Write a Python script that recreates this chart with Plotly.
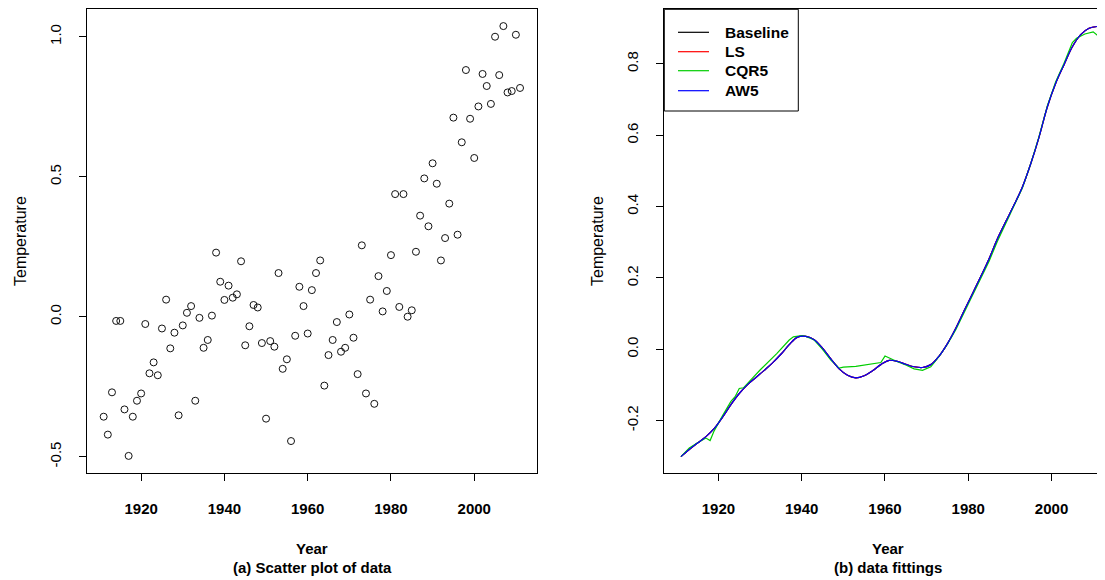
import plotly.graph_objects as go

# ---------------- data ----------------
years = list(range(1911, 2012))
temperature = [
    -0.357, -0.421, -0.270, -0.015, -0.015, -0.331, -0.497, -0.357, -0.300, -0.274,  # 1911-1920
    -0.026, -0.202, -0.163, -0.209, -0.042, 0.061, -0.113, -0.057, -0.352, -0.031,   # 1921-1930
    0.014, 0.038, -0.300, -0.004, -0.111, -0.083, 0.004, 0.229, 0.125, 0.060,        # 1931-1940
    0.111, 0.068, 0.080, 0.198, -0.102, -0.034, 0.042, 0.033, -0.094, -0.364,        # 1941-1950
    -0.087, -0.107, 0.156, -0.186, -0.152, -0.444, -0.068, 0.107, 0.038, -0.060,     # 1951-1960
    0.095, 0.156, 0.201, -0.246, -0.137, -0.083, -0.019, -0.125, -0.111, 0.008,      # 1961-1970
    -0.075, -0.205, 0.255, -0.274, 0.061, -0.311, 0.145, 0.019, 0.092, 0.220,        # 1971-1980
    0.438, 0.035, 0.438, 0.000, 0.023, 0.232, 0.361, 0.494, 0.323, 0.548,            # 1981-1990
    0.475, 0.201, 0.281, 0.404, 0.711, 0.293, 0.623, 0.881, 0.707, 0.567,            # 1991-2000
    0.751, 0.867, 0.824, 0.760, 1.000, 0.863, 1.038, 0.801, 0.806, 1.007,            # 2001-2010
    0.817,                                                                            # 2011
]

fit_years = [1911, 1913, 1915, 1917, 1919, 1921, 1923, 1925, 1927, 1929, 1931, 1933,
             1935, 1937, 1939, 1941, 1943, 1945, 1947, 1949, 1951, 1953, 1955, 1957,
             1959, 1961, 1963, 1965, 1967, 1969, 1971, 1973, 1975, 1977, 1979, 1981,
             1983, 1985, 1987, 1989, 1991, 1993, 1995, 1997, 1999, 2001, 2003, 2005,
             2007, 2009, 2011]
baseline = [-0.301, -0.281, -0.263, -0.245, -0.222, -0.190, -0.155, -0.124, -0.099, -0.079,
            -0.059, -0.038, -0.014, 0.013, 0.034, 0.036, 0.027, 0.003, -0.027, -0.055,
            -0.073, -0.080, -0.074, -0.060, -0.043, -0.031, -0.034, -0.042, -0.049, -0.051,
            -0.043, -0.019, 0.016, 0.059, 0.108, 0.156, 0.204, 0.254, 0.310, 0.358,
            0.405, 0.455, 0.520, 0.595, 0.680, 0.746, 0.798, 0.848, 0.882, 0.900, 0.905]
ls_fit = [-0.301, -0.281, -0.263, -0.245, -0.222, -0.190, -0.155, -0.124, -0.099, -0.079,
          -0.059, -0.038, -0.014, 0.013, 0.034, 0.036, 0.027, 0.003, -0.027, -0.055,
          -0.073, -0.080, -0.074, -0.060, -0.043, -0.031, -0.034, -0.042, -0.049, -0.051,
          -0.043, -0.019, 0.016, 0.059, 0.108, 0.156, 0.204, 0.254, 0.310, 0.358,
          0.405, 0.455, 0.520, 0.595, 0.680, 0.746, 0.798, 0.848, 0.882, 0.900, 0.905]
aw5_fit = [-0.301, -0.281, -0.263, -0.245, -0.222, -0.190, -0.155, -0.124, -0.099, -0.079,
           -0.059, -0.038, -0.014, 0.013, 0.034, 0.036, 0.027, 0.003, -0.027, -0.055,
           -0.073, -0.080, -0.074, -0.060, -0.043, -0.031, -0.034, -0.042, -0.049, -0.051,
           -0.043, -0.019, 0.016, 0.059, 0.108, 0.156, 0.204, 0.254, 0.310, 0.358,
           0.405, 0.455, 0.520, 0.595, 0.680, 0.746, 0.798, 0.848, 0.882, 0.900, 0.905]

cqr_years = [1911, 1913, 1915, 1917, 1918, 1919, 1921, 1923, 1924, 1925, 1926, 1927, 1930,
             1934, 1937, 1938, 1940, 1941, 1943, 1945, 1947, 1949, 1950, 1953, 1957, 1959,
             1960, 1961, 1963, 1965, 1967, 1969, 1971, 1973, 1975, 1977, 1979, 1981, 1983,
             1985, 1987, 1989, 1991, 1993, 1995, 1997, 1999, 2001, 2003, 2005, 2006, 2008,
             2010, 2011]
cqr5_fit = [-0.301, -0.277, -0.262, -0.249, -0.256, -0.228, -0.186, -0.146, -0.133, -0.110,
            -0.108, -0.095, -0.058, -0.012, 0.026, 0.035, 0.038, 0.036, 0.026, 0.000,
            -0.030, -0.053, -0.050, -0.048, -0.042, -0.037, -0.019, -0.025, -0.035, -0.044,
            -0.055, -0.059, -0.049, -0.020, 0.014, 0.055, 0.104, 0.153, 0.200, 0.247,
            0.303, 0.352, 0.402, 0.452, 0.520, 0.597, 0.683, 0.750, 0.802, 0.860,
            0.872, 0.884, 0.890, 0.880]

legend_names = ["Baseline", "LS", "CQR5", "AW5"]
legend_colors = ["#000000", "#FF0000", "#00CD00", "#0000FF"]

x_ticks = [1920, 1940, 1960, 1980, 2000]
left_y_ticks = [-0.5, 0.0, 0.5, 1.0]
left_y_text = ["-0.5", "0.0", "0.5", "1.0"]
right_y_ticks = [-0.2, 0.0, 0.2, 0.4, 0.6, 0.8]
right_y_text = ["-0.2", "0.0", "0.2", "0.4", "0.6", "0.8"]

# ---------------- figure ----------------
# page has an 8px body margin: figure pixel = page pixel - OFF
OFF = 8
W, H = 1105 - OFF, 580 - OFF
FONT = "Liberation Sans, Arial, Helvetica, sans-serif"


def fx(p):
    return (p - OFF) / W


def fy(p):
    return 1 - (p - OFF) / H


fig = go.Figure()

fig.add_trace(go.Scatter(
    x=years, y=temperature, mode="markers", xaxis="x", yaxis="y",
    marker=dict(symbol="circle-open", size=7, color="#111111", line=dict(width=1)),
    showlegend=False, name="data"))

fig.add_trace(go.Scatter(x=fit_years, y=baseline, mode="lines", name=legend_names[0],
                         xaxis="x2", yaxis="y2", showlegend=False,
                         line=dict(color=legend_colors[0], width=1.2, shape="spline")))
fig.add_trace(go.Scatter(x=fit_years, y=ls_fit, mode="lines", name=legend_names[1],
                         xaxis="x2", yaxis="y2", showlegend=False,
                         line=dict(color=legend_colors[1], width=1.2, shape="spline")))
fig.add_trace(go.Scatter(x=cqr_years, y=cqr5_fit, mode="lines", name=legend_names[2],
                         xaxis="x2", yaxis="y2", showlegend=False,
                         line=dict(color=legend_colors[2], width=1.2)))
fig.add_trace(go.Scatter(x=fit_years, y=aw5_fit, mode="lines", name=legend_names[3],
                         xaxis="x2", yaxis="y2", showlegend=False,
                         line=dict(color=legend_colors[3], width=1.2, shape="spline")))

ydom = [fy(472.7), fy(9.0)]
tickfont_x = dict(family=FONT, size=15, color="black", weight="bold")
tickfont_y = dict(family=FONT, size=15, color="black")

common_x = dict(showgrid=False, zeroline=False, showline=True, linecolor="black",
                linewidth=1, mirror=True, ticks="outside", ticklen=7, tickwidth=1,
                tickcolor="black", tickvals=x_ticks, tickfont=tickfont_x,
                ticklabelstandoff=15)
common_y = dict(showgrid=False, zeroline=False, showline=True, linecolor="black",
                linewidth=1, ticks="outside", ticklen=7, tickwidth=1, tickcolor="black",
                tickangle=-90, tickfont=tickfont_y, ticklabelstandoff=12)

fig.update_layout(
    width=W, height=H,
    paper_bgcolor="white", plot_bgcolor="white",
    margin=dict(l=0, r=0, t=0, b=0, autoexpand=False),
    xaxis=dict(domain=[fx(87), fx(536.7)], range=[1907, 2015], anchor="y", **common_x),
    yaxis=dict(domain=ydom, range=[-0.557, 1.099], anchor="x", mirror=True,
               tickvals=left_y_ticks, ticktext=left_y_text, **common_y),
    xaxis2=dict(domain=[fx(664.3), 1.0], range=[1907, 1907 + (1105 - 664.3) / 4.164],
                anchor="y2", **common_x),
    yaxis2=dict(domain=ydom, range=[-0.346, 0.954], anchor="x2", mirror=False,
                tickvals=right_y_ticks, ticktext=right_y_text, **common_y),
    showlegend=False,
)

# legend box (drawn by hand to match the R legend)
fig.add_shape(type="rect", xref="paper", yref="paper",
              x0=fx(664.3), x1=fx(798.3), y0=fy(111), y1=fy(9.3),
              line=dict(color="black", width=1), fillcolor="white", layer="above")
row_y = [32.3, 51.7, 70.7, 90.7]
for name, col, ry in zip(legend_names, legend_colors, row_y):
    fig.add_shape(type="line", xref="paper", yref="paper",
                  x0=fx(678), x1=fx(709), y0=fy(ry), y1=fy(ry),
                  line=dict(color=col, width=1.2), layer="above")
    fig.add_annotation(text=name, x=fx(723), y=fy(ry), xref="paper", yref="paper",
                       showarrow=False, xanchor="left", yanchor="middle",
                       font=dict(family=FONT, size=15.5, color="black", weight="bold"))


def ann(text, xpx, ypx, angle=0, bold=True, size=15):
    fig.add_annotation(text=text, x=fx(xpx), y=fy(ypx), xref="paper", yref="paper",
                       showarrow=False, textangle=angle, xanchor="center", yanchor="middle",
                       font=dict(family=FONT, size=size, color="black",
                                 weight="bold" if bold else "normal"))


ann("Year", 312, 548)
ann("(a) Scatter plot of data", 312, 567)
ann("Year", 888, 548)
ann("(b) data fittings", 888, 567)
ann("Temperature", 21, 241, angle=-90, bold=False, size=16)
ann("Temperature", 598, 241, angle=-90, bold=False, size=16)

fig.write_html("out.html")
